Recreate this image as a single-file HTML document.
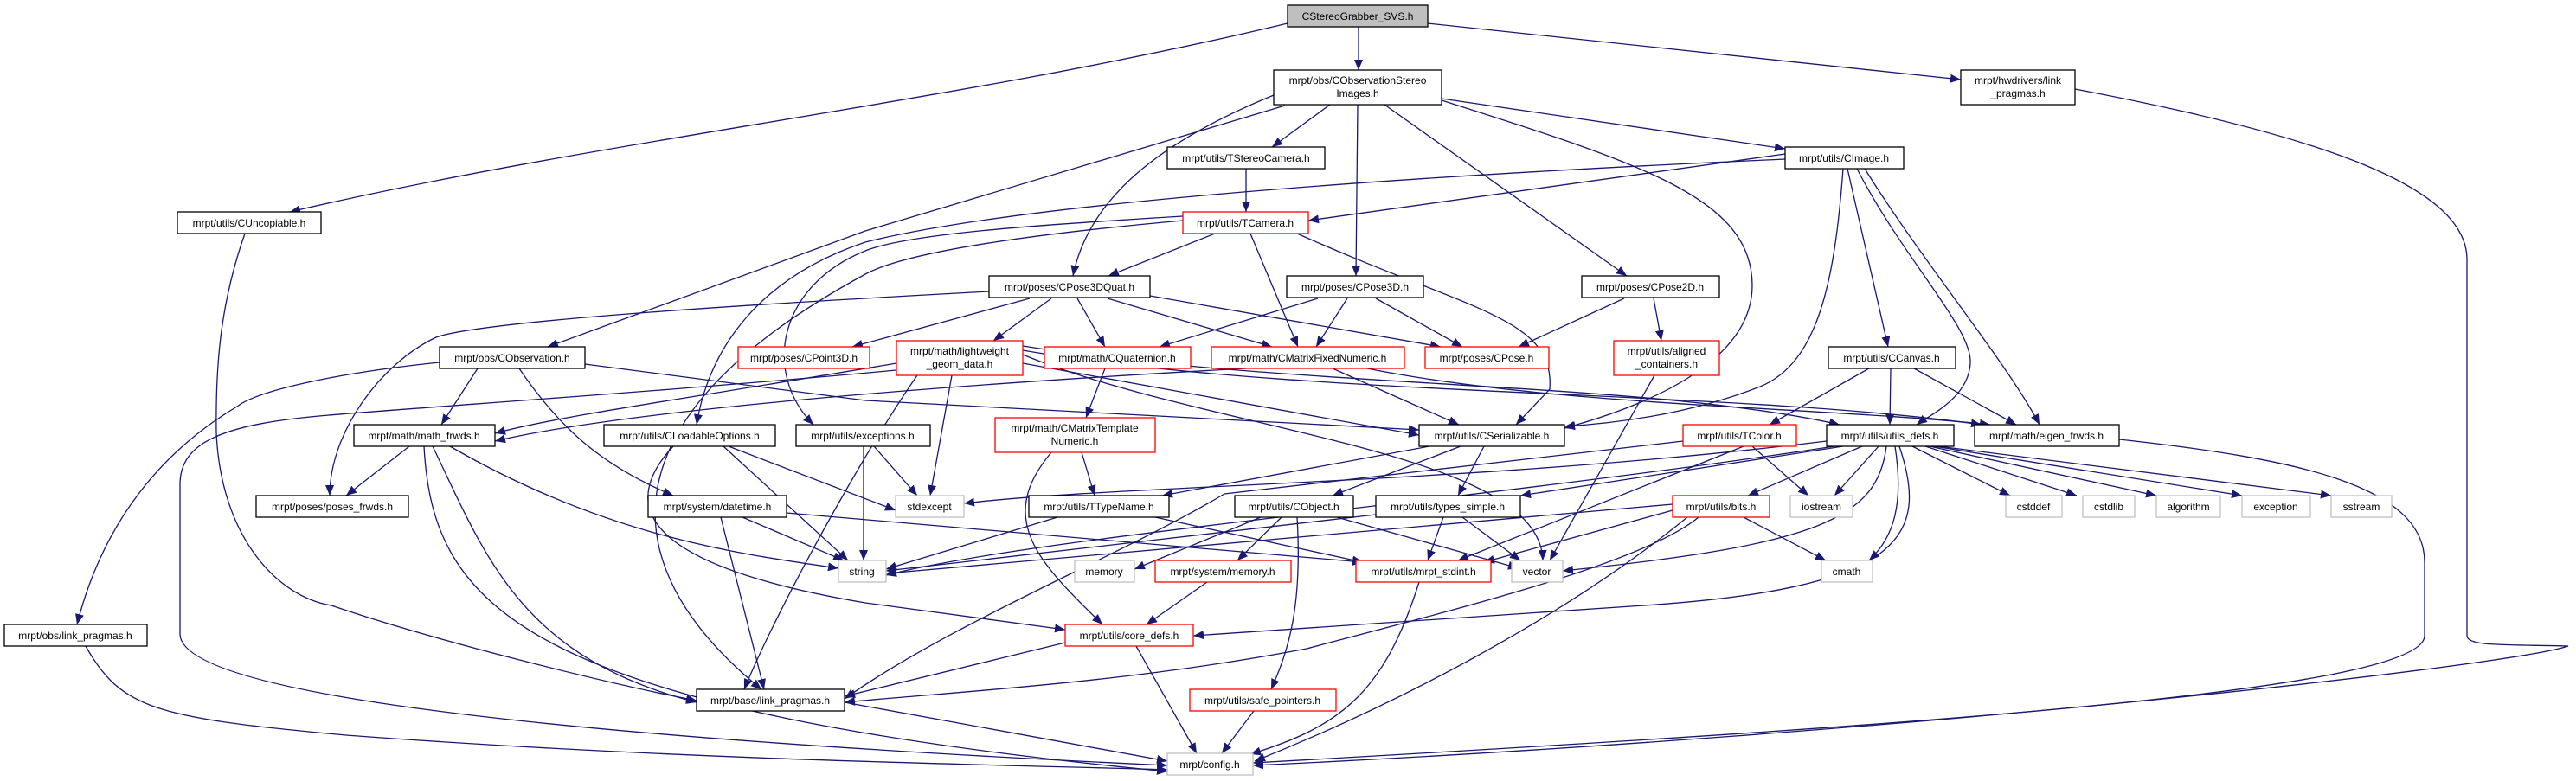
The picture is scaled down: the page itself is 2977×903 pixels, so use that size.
<!DOCTYPE html>
<html><head><meta charset="utf-8"><style>
html,body{margin:0;padding:0;background:#fff;}
svg{display:block;}
text{font-family:"Liberation Sans",sans-serif;font-size:12px;fill:#000;}
.e{fill:none;stroke:#191970;stroke-width:1.3;marker-end:url(#a);}
.n{fill:#fff;stroke:#000;stroke-width:1.3;}
.r{fill:#fff;stroke:#ff0000;stroke-width:1.3;}
.g{fill:#fff;stroke:#bfbfbf;stroke-width:1.3;}
</style></head><body>
<svg width="2977" height="903" viewBox="0 0 2977 903" xmlns="http://www.w3.org/2000/svg">
<defs><marker id="a" markerUnits="userSpaceOnUse" markerWidth="13" markerHeight="10" refX="12" refY="5" orient="auto"><path d="M0,0 L12,5 L0,10 z" fill="#191970"/></marker></defs>
<rect width="2977" height="903" fill="#fff"/>
<g>
<path class="e" d="M1570,31 L1570,81"/>
<path class="e" d="M1488,27 C1100,120 700,160 335,245"/>
<path class="e" d="M1650,27 L2266,92"/>
<path class="e" d="M2398,103 C2700,160 2851,220 2851,300 L2851,735 C2851,748 2900,745 2968,747 C2900,770 2200,850 1448,885"/>
<path class="e" d="M2449,508 C2650,530 2802,560 2802,650 L2802,735 C2802,800 2200,840 1448,882"/>
<path class="e" d="M1537,121 L1470,170"/>
<path class="e" d="M1569,121 L1567,319"/>
<path class="e" d="M1600,121 L1880,319"/>
<path class="e" d="M1472,110 C1357,157 1260,220 1240,319"/>
<path class="e" d="M1485,122 L1000,267 L633,401"/>
<path class="e" d="M1666,114 L2063,172"/>
<path class="e" d="M1666,116 C1900,190 2025,230 2025,330 C2025,420 1900,470 1808,495"/>
<path class="e" d="M1440,195 L1440,245"/>
<path class="e" d="M2063,178 L1512,255"/>
<path class="e" d="M2063,184 C1700,200 1200,230 1000,280 C880,320 820,400 805,491"/>
<path class="e" d="M1367,250 C1200,260 1050,270 1000,290 C900,330 880,430 940,491"/>
<path class="e" d="M1367,255 C1200,270 1050,290 1000,317 C700,480 700,650 880,797"/>
<path class="e" d="M1404,270 L1281,319"/>
<path class="e" d="M1445,270 L1500,401"/>
<path class="e" d="M1499,270 C1700,360 1797,367 1791,450 L1752,491"/>
<path class="e" d="M1215,345 L1148,394"/>
<path class="e" d="M1245,345 L1277,401"/>
<path class="e" d="M1280,345 L1470,401"/>
<path class="e" d="M1329,342 L1665,401"/>
<path class="e" d="M1190,345 L985,401"/>
<path class="e" d="M1143,337 C900,350 560,370 504,390 C440,420 381,500 381,573"/>
<path class="e" d="M1523,345 L1340,401"/>
<path class="e" d="M1557,345 L1521,401"/>
<path class="e" d="M1590,345 L1690,401"/>
<path class="e" d="M1877,345 L1755,401"/>
<path class="e" d="M1911,345 L1920,394"/>
<path class="e" d="M552,426 L510,491"/>
<path class="e" d="M600,426 C650,500 700,540 778,573"/>
<path class="e" d="M508,419 C400,430 300,450 274,470 C190,520 120,600 89,722"/>
<path class="e" d="M676,421 L1000,463 L1640,497"/>
<path class="e" d="M283,270 C255,350 249,420 250,500 C255,620 320,690 383,700 C500,740 700,790 805,810"/>
<path class="e" d="M1036,420 C800,460 650,480 572,501"/>
<path class="e" d="M1036,428 C800,450 500,470 380,480 C260,490 208,510 208,560 L208,733 C208,800 600,850 1349,885"/>
<path class="e" d="M1060,434 C1000,520 900,700 860,797"/>
<path class="e" d="M1100,434 L1075,573"/>
<path class="e" d="M1182,420 L1640,503"/>
<path class="e" d="M1182,410 C1400,500 1780,520 1783,648"/>
<path class="e" d="M1182,405 C1500,460 2000,450 2290,491"/>
<path class="e" d="M1182,400 C1500,450 1900,440 2126,491"/>
<path class="e" d="M1277,426 L1255,483"/>
<path class="e" d="M1540,426 L1686,491"/>
<path class="e" d="M1580,426 C1800,470 2100,470 2300,491"/>
<path class="e" d="M1440,426 C1000,450 700,480 572,510"/>
<path class="e" d="M1912,434 L1791,648"/>
<path class="e" d="M1250,523 L1265,573"/>
<path class="e" d="M1215,523 C1150,600 1200,650 1274,722"/>
<path class="e" d="M1652,516 L1343,573"/>
<path class="e" d="M1688,516 L1540,573"/>
<path class="e" d="M1715,516 L1685,573"/>
<path class="e" d="M836,516 L980,648"/>
<path class="e" d="M842,516 L1035,590"/>
<path class="e" d="M778,516 C700,600 780,660 1000,697 L1231,728"/>
<path class="e" d="M1010,516 L1060,573"/>
<path class="e" d="M998,516 L998,648"/>
<path class="e" d="M473,516 L400,573"/>
<path class="e" d="M500,516 C560,640 600,760 805,812"/>
<path class="e" d="M490,516 C500,700 600,820 1349,892"/>
<path class="e" d="M520,516 C700,620 850,640 969,657"/>
<path class="e" d="M858,598 L975,648"/>
<path class="e" d="M833,598 L883,797"/>
<path class="e" d="M909,593 L1575,650"/>
<path class="e" d="M99,747 C140,820 180,830 400,850 C800,880 1200,885 1349,890"/>
<path class="e" d="M976,812 L1349,880"/>
<path class="e" d="M1222,598 L1024,658"/>
<path class="e" d="M1335,598 L1575,650"/>
<path class="e" d="M1457,598 L1311,658"/>
<path class="e" d="M1481,598 L1430,648"/>
<path class="e" d="M1499,598 C1505,700 1490,750 1469,797"/>
<path class="e" d="M1545,598 L1755,657"/>
<path class="e" d="M1590,595 L1024,660"/>
<path class="e" d="M1668,598 L1650,648"/>
<path class="e" d="M1690,598 L1757,648"/>
<path class="e" d="M1395,673 L1325,722"/>
<path class="e" d="M1640,673 C1600,800 1550,840 1445,872"/>
<path class="e" d="M1313,747 L1383,871"/>
<path class="e" d="M1231,743 L976,805"/>
<path class="e" d="M1449,822 L1412,871"/>
<path class="e" d="M1933,583 L1024,663"/>
<path class="e" d="M1933,590 L1715,650"/>
<path class="e" d="M2015,598 L2110,648"/>
<path class="e" d="M1950,598 C1800,720 1600,820 1450,880"/>
<path class="e" d="M1963,598 C1900,650 1700,700 1510,750 C1300,790 1100,800 976,812"/>
<path class="e" d="M2025,516 L2090,573"/>
<path class="e" d="M2015,516 L1685,648"/>
<path class="e" d="M1945,510 L1415,571 C1300,640 1100,720 976,808"/>
<path class="e" d="M2111,510 C1700,560 1300,560 1114,582"/>
<path class="e" d="M2130,516 L1757,573"/>
<path class="e" d="M2152,516 L2020,573"/>
<path class="e" d="M2171,516 L2120,573"/>
<path class="e" d="M2190,516 C2200,580 2190,620 2160,648"/>
<path class="e" d="M2180,516 C2170,600 2100,630 1806,660"/>
<path class="e" d="M2195,516 C2230,620 2200,680 1900,700 C1600,720 1450,730 1379,735"/>
<path class="e" d="M2210,516 L2323,573"/>
<path class="e" d="M2225,516 L2400,573"/>
<path class="e" d="M2230,516 L2492,573"/>
<path class="e" d="M2235,516 L2591,573"/>
<path class="e" d="M2240,516 L2694,573"/>
<path class="e" d="M2120,516 C1700,580 1200,620 1024,665"/>
<path class="e" d="M2160,426 L2045,491"/>
<path class="e" d="M2185,426 L2184,491"/>
<path class="e" d="M2212,426 L2330,491"/>
<path class="e" d="M2135,195 L2182,401"/>
<path class="e" d="M2146,195 C2200,300 2280,380 2277,420 C2275,460 2230,480 2215,491"/>
<path class="e" d="M2155,195 C2220,300 2320,420 2357,491"/>
<path class="e" d="M2130,195 C2120,330 2100,420 2034,447 C1950,480 1860,490 1808,493"/>
</g>
<g>
<rect x="1488" y="6" width="162" height="25" fill="#bfbfbf" stroke="#000" stroke-width="1.3"/><text x="1569" y="23" text-anchor="middle">CStereoGrabber_SVS.h</text>
<rect class="n" x="1472" y="81" width="194" height="40"/><text x="1569" y="97" text-anchor="middle">mrpt/obs/CObservationStereo</text><text x="1569" y="112" text-anchor="middle">Images.h</text>
<rect class="n" x="2266" y="81" width="132" height="40"/><text x="2332" y="97" text-anchor="middle">mrpt/hwdrivers/link</text><text x="2332" y="112" text-anchor="middle">_pragmas.h</text>
<rect class="n" x="205" y="245" width="166" height="25"/><text x="288" y="262" text-anchor="middle">mrpt/utils/CUncopiable.h</text>
<rect class="n" x="1349" y="170" width="182" height="25"/><text x="1440" y="187" text-anchor="middle">mrpt/utils/TStereoCamera.h</text>
<rect class="n" x="2063" y="170" width="137" height="25"/><text x="2131" y="187" text-anchor="middle">mrpt/utils/CImage.h</text>
<rect class="r" x="1367" y="245" width="145" height="25"/><text x="1439" y="262" text-anchor="middle">mrpt/utils/TCamera.h</text>
<rect class="n" x="1143" y="319" width="186" height="25"/><text x="1236" y="336" text-anchor="middle">mrpt/poses/CPose3DQuat.h</text>
<rect class="n" x="1487" y="319" width="158" height="25"/><text x="1566" y="336" text-anchor="middle">mrpt/poses/CPose3D.h</text>
<rect class="n" x="1828" y="319" width="159" height="25"/><text x="1907" y="336" text-anchor="middle">mrpt/poses/CPose2D.h</text>
<rect class="n" x="508" y="401" width="168" height="25"/><text x="592" y="418" text-anchor="middle">mrpt/obs/CObservation.h</text>
<rect class="r" x="853" y="401" width="152" height="25"/><text x="929" y="418" text-anchor="middle">mrpt/poses/CPoint3D.h</text>
<rect class="r" x="1036" y="394" width="146" height="40"/><text x="1109" y="410" text-anchor="middle">mrpt/math/lightweight</text><text x="1109" y="425" text-anchor="middle">_geom_data.h</text>
<rect class="r" x="1207" y="401" width="169" height="25"/><text x="1291" y="418" text-anchor="middle">mrpt/math/CQuaternion.h</text>
<rect class="r" x="1400" y="401" width="223" height="25"/><text x="1511" y="418" text-anchor="middle">mrpt/math/CMatrixFixedNumeric.h</text>
<rect class="r" x="1647" y="401" width="143" height="25"/><text x="1718" y="418" text-anchor="middle">mrpt/poses/CPose.h</text>
<rect class="r" x="1865" y="394" width="122" height="40"/><text x="1926" y="410" text-anchor="middle">mrpt/utils/aligned</text><text x="1926" y="425" text-anchor="middle">_containers.h</text>
<rect class="n" x="2113" y="401" width="147" height="25"/><text x="2186" y="418" text-anchor="middle">mrpt/utils/CCanvas.h</text>
<rect class="n" x="409" y="491" width="163" height="25"/><text x="490" y="508" text-anchor="middle">mrpt/math/math_frwds.h</text>
<rect class="n" x="698" y="491" width="198" height="25"/><text x="797" y="508" text-anchor="middle">mrpt/utils/CLoadableOptions.h</text>
<rect class="n" x="920" y="491" width="155" height="25"/><text x="997" y="508" text-anchor="middle">mrpt/utils/exceptions.h</text>
<rect class="r" x="1150" y="483" width="185" height="40"/><text x="1242" y="499" text-anchor="middle">mrpt/math/CMatrixTemplate</text><text x="1242" y="514" text-anchor="middle">Numeric.h</text>
<rect class="n" x="1640" y="491" width="168" height="25"/><text x="1724" y="508" text-anchor="middle">mrpt/utils/CSerializable.h</text>
<rect class="r" x="1945" y="491" width="131" height="25"/><text x="2010" y="508" text-anchor="middle">mrpt/utils/TColor.h</text>
<rect class="n" x="2111" y="491" width="147" height="25"/><text x="2184" y="508" text-anchor="middle">mrpt/utils/utils_defs.h</text>
<rect class="n" x="2282" y="491" width="167" height="25"/><text x="2365" y="508" text-anchor="middle">mrpt/math/eigen_frwds.h</text>
<rect class="n" x="296" y="573" width="176" height="25"/><text x="384" y="590" text-anchor="middle">mrpt/poses/poses_frwds.h</text>
<rect class="n" x="749" y="573" width="160" height="25"/><text x="829" y="590" text-anchor="middle">mrpt/system/datetime.h</text>
<rect class="g" x="1035" y="573" width="79" height="25"/><text x="1074" y="590" text-anchor="middle">stdexcept</text>
<rect class="n" x="1189" y="573" width="162" height="25"/><text x="1270" y="590" text-anchor="middle">mrpt/utils/TTypeName.h</text>
<rect class="n" x="1427" y="573" width="137" height="25"/><text x="1495" y="590" text-anchor="middle">mrpt/utils/CObject.h</text>
<rect class="n" x="1590" y="573" width="167" height="25"/><text x="1673" y="590" text-anchor="middle">mrpt/utils/types_simple.h</text>
<rect class="r" x="1933" y="573" width="112" height="25"/><text x="1989" y="590" text-anchor="middle">mrpt/utils/bits.h</text>
<rect class="g" x="2069" y="573" width="72" height="25"/><text x="2105" y="590" text-anchor="middle">iostream</text>
<rect class="g" x="2318" y="573" width="65" height="25"/><text x="2350" y="590" text-anchor="middle">cstddef</text>
<rect class="g" x="2407" y="573" width="60" height="25"/><text x="2437" y="590" text-anchor="middle">cstdlib</text>
<rect class="g" x="2492" y="573" width="74" height="25"/><text x="2529" y="590" text-anchor="middle">algorithm</text>
<rect class="g" x="2591" y="573" width="79" height="25"/><text x="2630" y="590" text-anchor="middle">exception</text>
<rect class="g" x="2694" y="573" width="70" height="25"/><text x="2729" y="590" text-anchor="middle">sstream</text>
<rect class="g" x="969" y="648" width="55" height="25"/><text x="996" y="665" text-anchor="middle">string</text>
<rect class="g" x="1242" y="648" width="69" height="25"/><text x="1276" y="665" text-anchor="middle">memory</text>
<rect class="r" x="1335" y="648" width="157" height="25"/><text x="1413" y="665" text-anchor="middle">mrpt/system/memory.h</text>
<rect class="r" x="1567" y="648" width="156" height="25"/><text x="1645" y="665" text-anchor="middle">mrpt/utils/mrpt_stdint.h</text>
<rect class="g" x="1747" y="648" width="59" height="25"/><text x="1776" y="665" text-anchor="middle">vector</text>
<rect class="g" x="2105" y="648" width="59" height="25"/><text x="2134" y="665" text-anchor="middle">cmath</text>
<rect class="n" x="5" y="722" width="165" height="25"/><text x="87" y="739" text-anchor="middle">mrpt/obs/link_pragmas.h</text>
<rect class="r" x="1231" y="722" width="148" height="25"/><text x="1305" y="739" text-anchor="middle">mrpt/utils/core_defs.h</text>
<rect class="n" x="805" y="797" width="171" height="25"/><text x="890" y="814" text-anchor="middle">mrpt/base/link_pragmas.h</text>
<rect class="r" x="1375" y="797" width="169" height="25"/><text x="1459" y="814" text-anchor="middle">mrpt/utils/safe_pointers.h</text>
<rect class="g" x="1349" y="871" width="99" height="25"/><text x="1398" y="888" text-anchor="middle">mrpt/config.h</text>
</g>
</svg>
</body></html>
